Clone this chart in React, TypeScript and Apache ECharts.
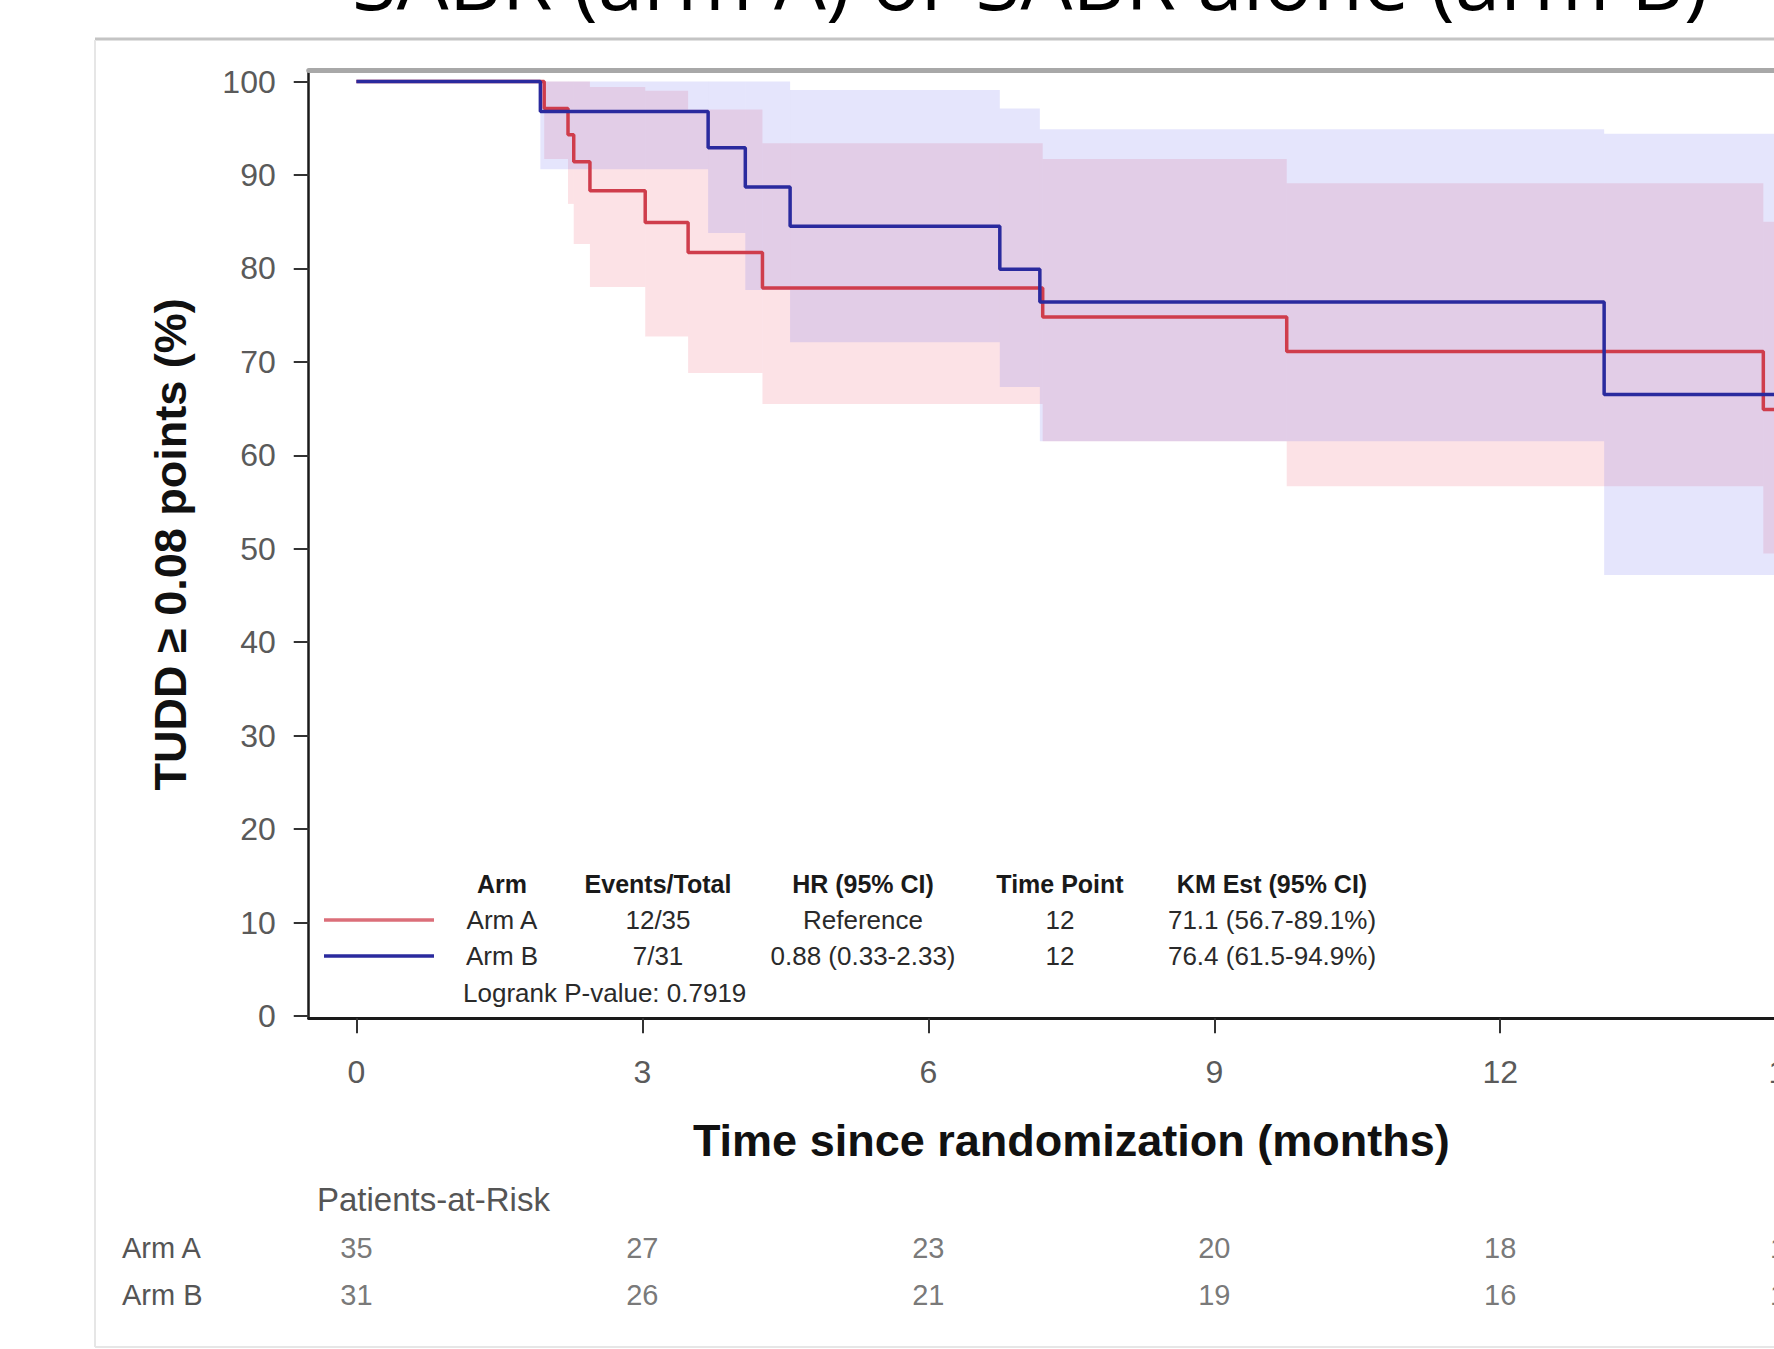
import React, { useEffect, useRef } from "react";
import * as echarts from "echarts";

// ---- data ----
const timesA = [0, 1.97, 2.22, 2.28, 2.45, 3.03, 3.48, 4.26, 7.2, 9.76, 14.76];
const survA = [100, 97.1, 94.3, 91.4, 88.3, 84.9, 81.7, 77.9, 74.8, 71.1, 64.9];
const timesB = [0, 1.93, 3.69, 4.08, 4.55, 6.75, 7.17, 13.09];
const survB = [100, 96.8, 92.9, 88.7, 84.5, 79.9, 76.4, 66.5];

const ciTimesA = [1.97, 2.22, 2.28, 2.45, 3.03, 3.48, 4.26, 7.2, 9.76, 14.76];
const ciLowA = [91.7, 86.9, 82.6, 78.0, 72.7, 68.8, 65.5, 61.5, 56.7, 49.5];
const ciHighA = [100, 100, 100, 99.4, 99.0, 97.0, 93.4, 91.7, 89.1, 85.0];
const ciTimesB = [1.93, 3.69, 4.08, 4.55, 6.75, 7.17, 13.09];
const ciLowB = [90.6, 83.8, 77.7, 72.1, 67.3, 61.5, 47.2];
const ciHighB = [100, 100, 100, 99.1, 97.1, 94.9, 94.4];

const riskTimes = [0, 3, 6, 9, 12, 15];
const riskA = [35, 27, 23, 20, 18, 16];
const riskB = [31, 26, 21, 19, 16, 14];
const armNames = ["Arm A", "Arm B"];

const legendHeader = ["Arm", "Events/Total", "HR (95% CI)", "Time Point", "KM Est (95% CI)"];
const legendRowA = ["Arm A", "12/35", "Reference", "12", "71.1 (56.7-89.1%)"];
const legendRowB = ["Arm B", "7/31", "0.88 (0.33-2.33)", "12", "76.4 (61.5-94.9%)"];
const logrankText = "Logrank P-value: 0.7919";

const titleText = "SABR (arm A) or SABR alone (arm B)";
const xTitle = "Time since randomization (months)";
const yTitle = "TUDD \u2265 0.08 points (%)";

// ---- layout ----
const CW = 1900;
const CH = 1349;
const X0 = 356.4; // pixel of t = 0
const PXM = 95.32; // px per month
const Y100 = 81.5; // pixel of 100 %
const PXU = 9.345; // px per %
const TMIN = -0.5;
const TMAX = 15.5;
const YMIN = -0.25;
const YMAX = 101.2;

const RED = "#cf3d4c";
const BLUE = "#2a2a9e";
const RED_BAND = "rgba(240,110,130,0.2)";
const BLUE_BAND = "rgba(110,110,240,0.18)";
const FONT = "Liberation Sans";

function kmData(ts: number[], ss: number[]) {
  const d = ts.map((t, i) => [t, ss[i]]);
  d.push([TMAX, ss[ss.length - 1]]);
  return d;
}

function bandData(ts: number[], lo: number[], hi: number[]) {
  return ts.map((t, i) => [t, i + 1 < ts.length ? ts[i + 1] : TMAX, lo[i], hi[i]]);
}

function bandSeries(data: number[][], color: string) {
  return {
    type: "custom",
    xAxisIndex: 0,
    yAxisIndex: 0,
    z: 1,
    silent: true,
    encode: { x: [0, 1], y: [2, 3] },
    data,
    renderItem: (params: any, api: any) => {
      const p0 = api.coord([api.value(0), api.value(3)]);
      const p1 = api.coord([api.value(1), api.value(2)]);
      return {
        type: "rect",
        shape: { x: p0[0], y: p0[1], width: p1[0] - p0[0], height: p1[1] - p0[1] },
        style: { fill: color },
      };
    },
  };
}

const hiddenAxis = (gridIndex: number, extra: any = {}) => ({
  gridIndex,
  type: "value",
  show: false,
  ...extra,
});

export default function App() {
  const ref = useRef<HTMLDivElement>(null);
  useEffect(() => {
    const chart = echarts.init(ref.current as HTMLDivElement, null, { renderer: "svg" });

    const axisLeft = X0 + TMIN * PXM;
    const axisBottom = Y100 + (100 - YMIN) * PXU;
    const gMain = {
      left: axisLeft,
      width: (TMAX - TMIN) * PXM,
      top: Y100 - (YMAX - 100) * PXU,
      height: (YMAX - YMIN) * PXU,
    };
    const gYTicks = { left: axisLeft, width: 100, top: Y100, height: 100 * PXU };
    const gRisk = { left: X0, width: TMAX * PXM, top: 1224, height: 94 };
    const gXTicks = { left: X0, width: TMAX * PXM, top: 500, height: axisBottom - 500 };

    const colX = [502, 658, 863, 1060, 1272];
    const rowY = [884, 920, 956];
    const legendTexts: any[] = [];
    legendHeader.forEach((s, i) =>
      legendTexts.push({
        type: "text",
        x: colX[i],
        y: rowY[0],
        style: { text: s, font: `bold 25px "${FONT}"`, fill: "#1a1a1a", align: "center", verticalAlign: "middle" },
      })
    );
    [legendRowA, legendRowB].forEach((row, r) =>
      row.forEach((s, i) =>
        legendTexts.push({
          type: "text",
          x: colX[i],
          y: rowY[r + 1],
          style: { text: s, font: `26px "${FONT}"`, fill: "#2a2a2a", align: "center", verticalAlign: "middle" },
        })
      )
    );
    legendTexts.push({
      type: "text",
      x: 463,
      y: 993,
      style: { text: logrankText, font: `26px "${FONT}"`, fill: "#2a2a2a", align: "left", verticalAlign: "middle" },
    });
    legendTexts.push({ type: "line", shape: { x1: 324, y1: rowY[1], x2: 434, y2: rowY[1] }, style: { stroke: RED, lineWidth: 3.5, opacity: 0.75 } });
    legendTexts.push({ type: "line", shape: { x1: 324, y1: rowY[2], x2: 434, y2: rowY[2] }, style: { stroke: BLUE, lineWidth: 3.5 } });

    const option: any = {
      animation: false,
      backgroundColor: "#ffffff",
      grid: [
        { ...gMain, containLabel: false },
        { ...gYTicks, containLabel: false },
        { ...gRisk, containLabel: false },
        { ...gXTicks, containLabel: false },
      ],
      xAxis: [
        {
          gridIndex: 0,
          type: "value",
          min: TMIN,
          max: TMAX,
          axisLine: { show: true, onZero: false, lineStyle: { color: "#1a1a1a", width: 3 } },
          axisTick: { show: false },
          axisLabel: { show: false },
          splitLine: { show: false },
          name: xTitle,
          nameLocation: "middle",
          nameGap: 100,
          nameTextStyle: { fontFamily: FONT, fontSize: 45, fontWeight: "bold", color: "#111" },
        },
        hiddenAxis(1, { min: 0, max: 1 }),
        {
          gridIndex: 0,
          type: "value",
          position: "top",
          min: TMIN,
          max: TMAX,
          axisLine: { show: true, onZero: false, lineStyle: { color: "#a8a8a8", width: 5 } },
          axisTick: { show: false },
          axisLabel: { show: false },
          splitLine: { show: false },
        },
        hiddenAxis(2, { min: 0, max: TMAX }),
        {
          gridIndex: 3,
          type: "value",
          min: 0,
          max: TMAX,
          interval: 3,
          axisLine: { show: false },
          axisTick: { show: true, length: 15, lineStyle: { color: "#333", width: 2 } },
          axisLabel: { show: true, fontFamily: FONT, fontSize: 32, color: "#5a5a5a", margin: 38, showMaxLabel: false },
          splitLine: { show: false },
        },
      ],
      yAxis: [
        {
          gridIndex: 0,
          type: "value",
          min: YMIN,
          max: YMAX,
          axisLine: { show: true, onZero: false, lineStyle: { color: "#1a1a1a", width: 2.5 } },
          axisTick: { show: false },
          axisLabel: { show: false },
          splitLine: { show: false },
          name: yTitle,
          nameLocation: "middle",
          nameRotate: 90,
          nameGap: 116,
          nameTextStyle: { fontFamily: FONT, fontSize: 45, fontWeight: "bold", color: "#111" },
        },
        {
          gridIndex: 1,
          type: "value",
          min: 0,
          max: 100,
          interval: 10,
          axisLine: { show: false },
          axisTick: { show: true, length: 15, lineStyle: { color: "#333", width: 2 } },
          axisLabel: { show: true, fontFamily: FONT, fontSize: 32, color: "#5a5a5a", margin: 33 },
          splitLine: { show: false },
        },
        {
          gridIndex: 2,
          type: "category",
          data: armNames,
          inverse: true,
          axisLine: { show: false },
          axisTick: { show: false },
          axisLabel: { show: true, align: "left", margin: X0 - 122, fontFamily: FONT, fontSize: 29, color: "#555" },
          splitLine: { show: false },
        },
        hiddenAxis(3, { min: 0, max: 1 }),
      ],
      series: [
        bandSeries(bandData(ciTimesA, ciLowA, ciHighA), RED_BAND),
        bandSeries(bandData(ciTimesB, ciLowB, ciHighB), BLUE_BAND),
        {
          type: "line",
          name: "Arm A",
          xAxisIndex: 0,
          yAxisIndex: 0,
          step: "end",
          z: 3,
          showSymbol: false,
          symbol: "none",
          data: kmData(timesA, survA),
          lineStyle: { color: RED, width: 3.5 },
          itemStyle: { color: RED },
        },
        {
          type: "line",
          name: "Arm B",
          xAxisIndex: 0,
          yAxisIndex: 0,
          step: "end",
          z: 4,
          showSymbol: false,
          symbol: "none",
          data: kmData(timesB, survB),
          lineStyle: { color: BLUE, width: 3.5 },
          itemStyle: { color: BLUE },
        },
        {
          type: "scatter",
          xAxisIndex: 3,
          yAxisIndex: 2,
          symbolSize: 0.1,
          itemStyle: { color: "transparent" },
          silent: true,
          data: [
            ...riskTimes.map((t, i) => [t, 0, riskA[i]]),
            ...riskTimes.map((t, i) => [t, 1, riskB[i]]),
          ],
          label: {
            show: true,
            position: "inside",
            formatter: (p: any) => String(p.value[2]),
            fontFamily: FONT,
            fontSize: 29,
            color: "#555",
          },
        },
      ],
      graphic: [
        {
          type: "text",
          x: 1030,
          y: -22,
          style: { text: titleText, font: `82px "Open Sans"`, fill: "#000", align: "center", verticalAlign: "middle" },
        },
        { type: "line", shape: { x1: 95, y1: 39, x2: CW, y2: 39 }, style: { stroke: "#c4c4c4", lineWidth: 3 } },
        { type: "line", shape: { x1: 95, y1: 40, x2: 95, y2: 1347 }, style: { stroke: "#e6e6e6", lineWidth: 2 } },
        { type: "line", shape: { x1: 95, y1: 1347, x2: CW, y2: 1347 }, style: { stroke: "#e6e6e6", lineWidth: 2 } },
        {
          type: "text",
          x: 317,
          y: 1199,
          style: { text: "Patients-at-Risk", font: `33px "${FONT}"`, fill: "#555", align: "left", verticalAlign: "middle" },
        },
        ...legendTexts,
      ],
    };
    chart.setOption(option);
    return () => chart.dispose();
  }, []);

  return (
    <div style={{ position: "fixed", left: 0, top: 0, width: 1774, height: CH, overflow: "hidden", background: "#fff" }}>
      <div ref={ref} style={{ width: CW, height: CH }} />
    </div>
  );
}
